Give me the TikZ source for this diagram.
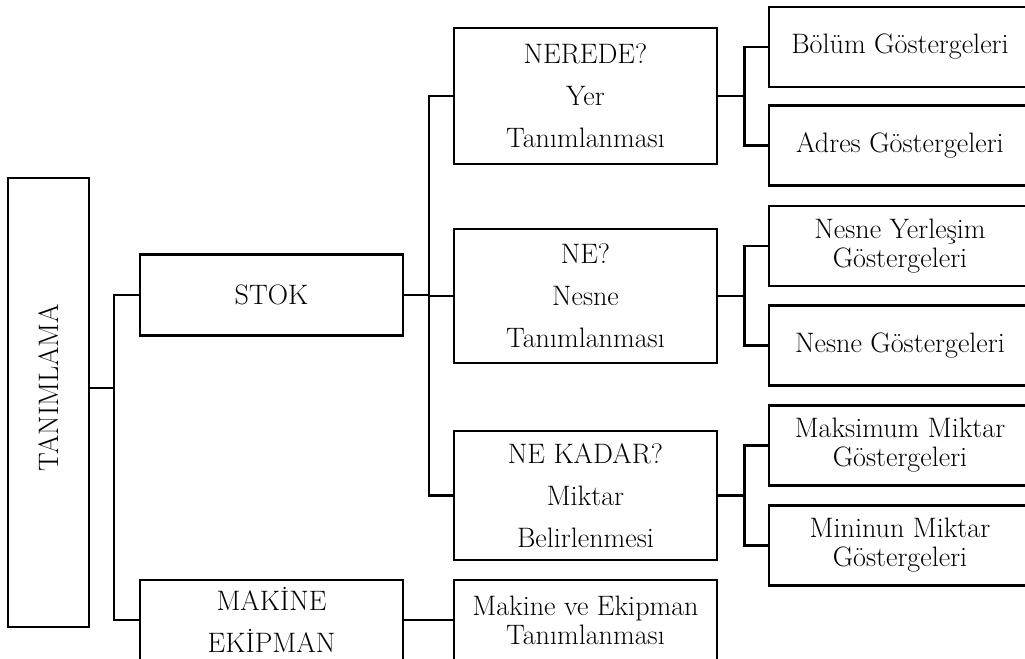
\documentclass[tikz,border=0pt]{standalone}
\usepackage{graphicx}
\newcommand{\fork}[3]{\draw (#1.east) -- ++(26,0) coordinate (#1-j);
  \draw (#2.west) -| (#1-j) |- (#3.west);}
\tikzset{box/.style={draw,line width=1.5pt,align=center,inner sep=2pt,
    font=\fontsize{16}{24}\selectfont,minimum width=5.26cm},
  leaf/.style={box,font=\fontsize{16}{16.5}\selectfont,minimum height=1.6cm,minimum width=5.24cm}}

\begin{document}
\begin{tikzpicture}[x=0.02cm,y=-0.02cm,line width=1.5pt]
\useasboundingbox (0,0) rectangle (1025,659);
% left side
\node[box,minimum width=1.62cm,minimum height=8.98cm] (tan) at (48.5,402.5) {\rotatebox{90}{\hspace{0.6cm}TANIMLAMA}};
\node[box,minimum height=1.62cm] (stok) at (271.5,295) {STOK};
\node[box,minimum height=1.6cm] (mak) at (271.5,620) {MAKİNE\\EKİPMAN};
% middle column
\node[box,minimum height=2.72cm] (nerede) at (585.5,96) {NEREDE?\\Yer\\Tanımlanması};
\node[box,minimum height=2.68cm] (ne) at (585.5,296) {NE?\\Nesne\\Tanımlanması};
\node[box,minimum height=2.58cm] (nekadar) at (585.5,495.5) {NE KADAR?\\Miktar\\Belirlenmesi};
\node[leaf,minimum width=5.26cm,minimum height=1.6cm] (mve) at (585.5,620) {Makine ve Ekipman\\Tanımlanması};
% right column
\node[leaf] (bolum) at (900,47) {Bölüm Göstergeleri};
\node[leaf] (adres) at (900,145.5) {Adres Göstergeleri};
\node[leaf] (nyer) at (900,246) {Nesne Yerleşim\\Göstergeleri};
\node[leaf] (ngos) at (900,345.5) {Nesne Göstergeleri};
\node[leaf] (maks) at (900,445.5) {Maksimum Miktar\\Göstergeleri};
\node[leaf] (mini) at (900,545.5) {Mininun Miktar\\Göstergeleri};
% connectors
\coordinate (root-j) at (114,388);
\draw (tan.east |- root-j) -- (root-j);
\draw (stok.west) -| (root-j) |- (mak.west);
\coordinate (stok-j) at (429,295);
\draw (stok.east) -- (stok-j);
\draw (nerede.west) -| (stok-j) |- (nekadar.west);
\draw (ne.west) -- (ne.west -| stok-j);
\draw (mak.east) -- (mve.west);
\fork{nerede}{bolum}{adres}
\fork{ne}{nyer}{ngos}
\fork{nekadar}{maks}{mini}
\end{tikzpicture}
\end{document}
